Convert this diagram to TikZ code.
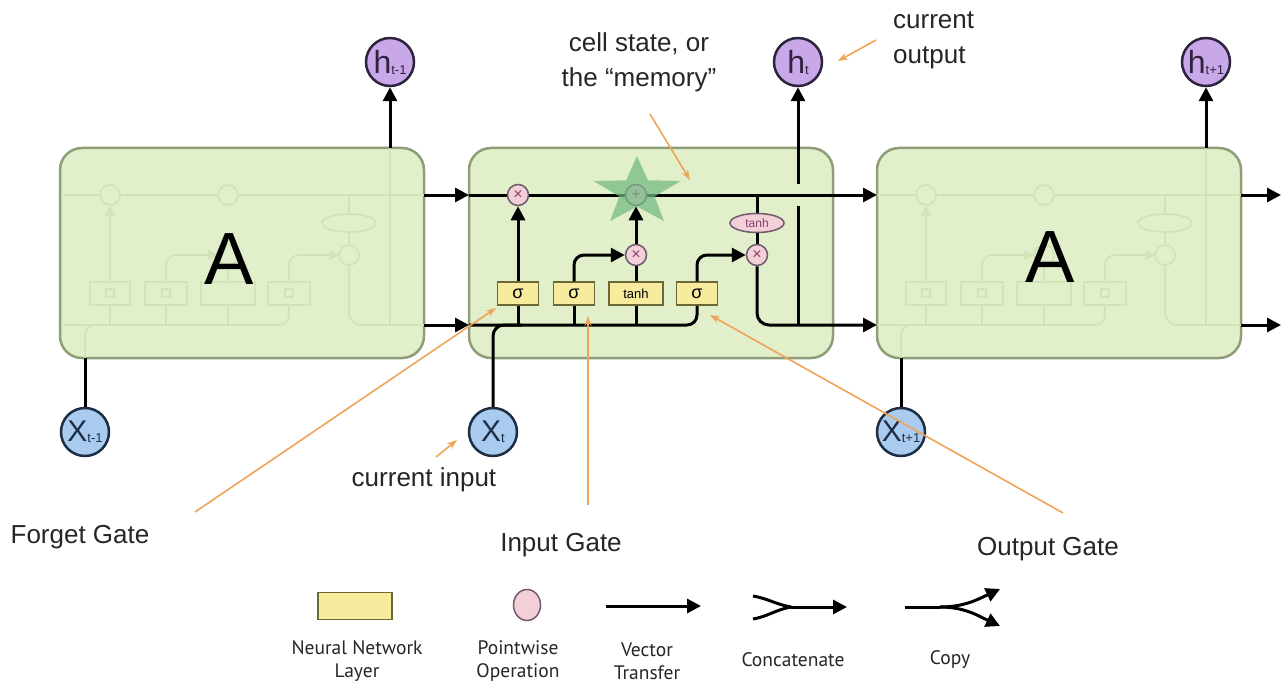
\documentclass[tikz,border=0pt]{standalone}
\usepackage{fontspec}
\setmainfont{Liberation Sans}
\newfontfamily\legendfont{PT Sans}
\usetikzlibrary{arrows.meta,shapes.geometric,calc}
\definecolor{cellfill}{HTML}{E1EFCB}
\definecolor{celldraw}{HTML}{8E9E78}
\definecolor{ghostc}{HTML}{D1E3B8}
\definecolor{layerfill}{HTML}{F7EB9E}
\definecolor{layerdraw}{HTML}{6C6836}
\definecolor{pwfill}{HTML}{F3D0D8}
\definecolor{pwdraw}{HTML}{6E5A6C}
\definecolor{pwtext}{HTML}{8A3F73}
\definecolor{hfill}{HTML}{C9A8E9}
\definecolor{hdraw}{HTML}{2E2440}
\definecolor{xfill}{HTML}{A9CBEF}
\definecolor{xdraw}{HTML}{1E2E44}
\definecolor{annoc}{HTML}{EFA45A}
\definecolor{starc}{HTML}{72B981}
\definecolor{legtext}{HTML}{262626}
\newcommand{\subtxt}[1]{{\fontsize{13}{13}\selectfont\raisebox{-1pt}{#1}}}
\newcommand{\drawghost}{%
  \draw[gh] (469,195) -- (833,195);
  \draw[gh,-{Triangle[length=10,width=10]}] (518,282) -- (518,206);
  \draw[gh,rounded corners=10] (469,325) -| (697,305);
  \draw[gh] (518,325) -- (518,305);
  \draw[gh] (574,325) -- (574,305);
  \draw[gh] (636,325) -- (636,305);
  \draw[gh,rounded corners=10,-{Triangle[length=10,width=10]}] (574,282) |- (626,255);
  \draw[gh] (636,282) -- (636,265);
  \draw[gh,rounded corners=10,-{Triangle[length=10,width=10]}] (697,282) |- (747,255);
  \draw[gh] (757,195) -- (757,214);
  \draw[gh] (757,232) -- (757,245);
  \draw[gh,rounded corners=12] (757,265) |- (833,325);
  \draw[gh] (798,325) -- (798,148);
  \draw[gh,rounded corners=10] (493,358) |- (520,325);
  \draw[gh,fill=cellfill] (518,195) circle (10);
  \draw[gh,fill=cellfill] (636,195) circle (10);
  \draw[gh,fill=cellfill] (636,255) circle (10);
  \draw[gh,fill=cellfill] (757,255) circle (10);
  \draw[gh,fill=cellfill] (757,223) ellipse (27 and 9);
  \draw[gh,fill=cellfill] (498,282) rectangle (538,305);
  \draw[gh,fill=cellfill] (553,282) rectangle (595,305);
  \draw[gh,fill=cellfill] (609,282) rectangle (663,305);
  \draw[gh,fill=cellfill] (676,282) rectangle (718,305);
  \draw[gh] (514,289) rectangle (522,297);
  \draw[gh] (570,289) rectangle (578,297);
  \draw[gh] (693,289) rectangle (701,297);
}
\begin{document}
\begin{tikzpicture}[x=1pt,y=-1pt,
  cell/.style={rectangle,minimum width=364,minimum height=210,rounded corners=22,
    fill=cellfill,draw=celldraw,line width=2.5},
  gh/.style={draw=ghostc,line width=1.6},
  flow/.style={draw=black,line width=3},
  arr/.style={flow,-{Triangle[length=14,width=14]}},
  pw/.style={circle,minimum size=21,inner sep=0,fill=pwfill,draw=pwdraw,line width=1.5,
    text=pwtext,font=\fontsize{16}{16}\selectfont},
  pwell/.style={ellipse,minimum width=54,minimum height=19,inner sep=0,fill=pwfill,draw=pwdraw,
    line width=1.5,text=pwtext,font=\fontsize{12}{12}\selectfont},
  layer/.style={rectangle,minimum width=41,minimum height=23,inner sep=0,fill=layerfill,
    draw=layerdraw,line width=1.5,font=\fontsize{18}{18}\selectfont},
  hnode/.style={circle,minimum size=48,inner sep=0,fill=hfill,draw=hdraw,line width=2.5,
    text=hdraw,font=\fontsize{32}{32}\selectfont},
  xnode/.style={circle,minimum size=48,inner sep=0,fill=xfill,draw=xdraw,line width=2.5,
    text=xdraw,font=\fontsize{30}{30}\selectfont},
  bigA/.style={font=\fontsize{74}{74}\selectfont,inner sep=0},
  lab/.style={font=\fontsize{26}{35}\selectfont,inner sep=0,text=black!85},
  anno/.style={draw=annoc,line width=1.6,-{Stealth[length=10,width=7]}},
  legtxt/.style={font=\legendfont\fontsize{19.5}{23}\selectfont,align=center,text=legtext,inner sep=0}
]
\fill[white] (0,0) rectangle (1282,682);
\useasboundingbox (0,0) rectangle (1282,682);

% cells
\node[cell] (L) at (242,253) {};
\node[cell] (M) at (651,253) {};
\node[cell] (R) at (1059,253) {};
\begin{scope}[shift={(-408,0)}]\drawghost\end{scope}
\begin{scope}[shift={(408,0)}]\drawghost\end{scope}
\node[bigA] (LA) at (229,259) {A};
\node[bigA] (RA) at (1050,257) {A};

% coordinates on cell borders
\coordinate (Lout1) at (424,195);
\coordinate (Lout2) at (424,325);
\coordinate (Min1) at (469,195);
\coordinate (Min2) at (469,325);
\coordinate (Mout1) at (833,195);
\coordinate (Rin1) at (877,195);
\coordinate (Rin2) at (877,325);
\coordinate (Rout1) at (1241,195);
\coordinate (Rout2) at (1241,325);
\coordinate (Rend1) at (1281,195);
\coordinate (Rend2) at (1281,325);
\coordinate (Ltop) at (390,148);
\coordinate (Rtop) at (1206,148);
\coordinate (Lbot) at (85,358);
\coordinate (Rbot) at (901,358);

% inner nodes of the middle cell
\node[layer] (s1) at (518,293.5) {σ};
\node[layer] (s2) at (574,293.5) {σ};
\node[layer,minimum width=54,font=\fontsize{13}{13}\selectfont] (tl) at (636,293.5) {tanh};
\node[layer] (s3) at (697,293.5) {σ};
\node[pw] (fx) at (518,195) {×};
\node[pw] (px) at (636,195) {+};
\node[pw] (ix) at (636,255) {×};
\node[pw] (ox) at (757,255) {×};
\node[pwell] (otanh) at (757,223) {tanh};
\coordinate (ctap) at (757,195);
\coordinate (hbot) at (798,325);
\coordinate (hgapA) at (798,206);
\coordinate (hgapB) at (798,184);
\coordinate (xjoin) at (522,325);

% outer circles
\node[hnode] (hprev) at (390,62) {h\subtxt{t-1}};
\node[hnode] (ht) at (798,62) {h\subtxt{t}};
\node[hnode] (hnext) at (1206,62) {h\subtxt{t+1}};
\node[xnode] (xprev) at (85,432) {X\subtxt{t-1}};
\node[xnode] (xt) at (493,432) {X\subtxt{t}};
\node[xnode] (xnext) at (901,432) {X\subtxt{t+1}};

% connectors between cells
\draw[arr] (Lout1) -- (Min1);
\draw[arr] (Lout2) -- (Min2);
\draw[arr] (Mout1) -- (Rin1);
\draw[arr] (Rout1) -- (Rend1);
\draw[arr] (Rout2) -- (Rend2);
\draw[arr] (Ltop) -- (hprev);
\draw[arr] (Rtop) -- (hnext);
\draw[flow] (xprev) -- (Lbot);
\draw[flow] (xnext) -- (Rbot);

% middle cell flow
\draw[flow] (Min1) -- (fx) -- (px) -- (Mout1);
\draw[flow,rounded corners=10] (Min2) -| (s3.south);
\draw[flow] (s1.south) -- (s1.south |- Min2);
\draw[flow] (s2.south) -- (s2.south |- Min2);
\draw[flow] (tl.south) -- (tl.south |- Min2);
\draw[flow,rounded corners=11] (xt) |- (xjoin);
\draw[arr] (s1) -- (fx);
\draw[arr,rounded corners=10] (s2.north) |- (ix);
\draw[flow] (tl) -- (ix);
\draw[arr] (ix) -- (px);
\draw[arr,rounded corners=10] (s3.north) |- (ox);
\draw[flow] (ctap) -- (otanh);
\draw[flow] (otanh) -- (ox);
\draw[arr,rounded corners=12] (ox) |- (Rin2);
\draw[flow] (hbot) -- (hgapA);
\draw[arr] (hgapB) -- (ht);

% star (drawn as a shape, over the + operation)
\fill[starc,fill opacity=0.72] (637,156) -- (647.9,180.3) -- (680.7,180.9) -- (654.6,196.5)
  -- (664.0,221.1) -- (637,206.5) -- (610.0,221.1) -- (619.4,196.5) -- (593.3,180.9)
  -- (626.1,180.3) -- cycle;

% annotations
\node[lab,align=center] (cellLab) at (639,62) {cell state, or\\the “memory”};
\node[lab,align=left,anchor=west] (outLab) at (893,40) {current\\output};
\node[lab] (inLab) at (424,480) {current input};
\node[lab] (fgLab) at (80,537) {Forget Gate};
\node[lab] (igLab) at (561,545) {Input Gate};
\node[lab] (ogLab) at (1048,549) {Output Gate};
\coordinate (cellT) at (650,114);
\coordinate (cellH) at (690,180);
\coordinate (outT) at (876,40);
\coordinate (outH) at (838,61);
\coordinate (inT) at (436,457);
\coordinate (inH) at (457,440);
\coordinate (fgT) at (195,512);
\coordinate (fgH) at (496,308);
\coordinate (igT) at (588,505);
\coordinate (igH) at (588,316);
\coordinate (ogT) at (1063,513);
\coordinate (ogH) at (710,315);
\draw[anno] (cellT) -- (cellH);
\draw[anno] (outT) -- (outH);
\draw[anno] (inT) -- (inH);
\draw[anno] (fgT) -- (fgH);
\draw[anno] (igT) -- (igH);
\draw[anno] (ogT) -- (ogH);

% legend
\node[layer,minimum width=74,minimum height=27] (lgLayer) at (355,606) {};
\node[pw,ellipse,minimum width=27,minimum height=31] (lgPw) at (527,605) {};
\coordinate (lgV1) at (606,606);
\coordinate (lgV2) at (701,606);
\draw[arr] (lgV1) -- (lgV2);
\coordinate (lgC1) at (753,596);
\coordinate (lgC2) at (753,619);
\coordinate (lgCm) at (791,607);
\coordinate (lgCe) at (847,607);
\draw[flow] (lgC1) to[out=-10,in=170] (lgCm);
\draw[flow] (lgC2) to[out=10,in=190] (lgCm);
\draw[arr] (lgCm) -- (lgCe);
\coordinate (lgK1) at (905,607);
\coordinate (lgKm) at (940,607);
\coordinate (lgK2) at (1000,589);
\coordinate (lgK3) at (1000,626);
\draw[flow] (lgK1) -- (lgKm);
\draw[arr] (lgKm) to[out=0,in=205] (lgK2);
\draw[arr] (lgKm) to[out=0,in=155] (lgK3);
\node[legtxt] (lgLayerT) at (357,661) {Neural Network\\Layer};
\node[legtxt] (lgPwT) at (518,661) {Pointwise\\Operation};
\node[legtxt] (lgVT) at (647,661) {Vector\\Transfer};
\node[legtxt] (lgCT) at (793,660) {Concatenate};
\node[legtxt] (lgKT) at (950,660) {Copy};
\end{tikzpicture}
\end{document}
